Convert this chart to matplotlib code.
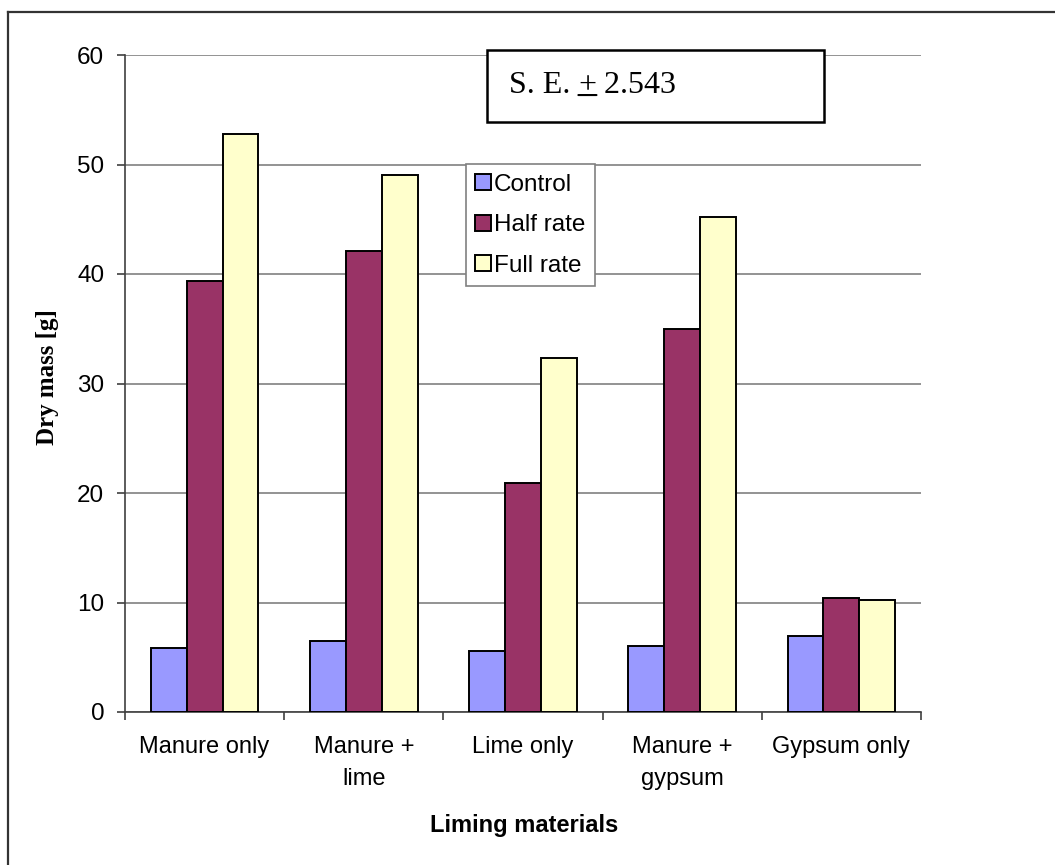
import matplotlib
matplotlib.use("Agg")
import matplotlib.pyplot as plt
import numpy as np
from matplotlib.lines import Line2D
from matplotlib.patches import Rectangle

# Dry mass of plants for each liming material at three application rates
categories = ["Manure only", "Manure +\nlime", "Lime only", "Manure +\ngypsum", "Gypsum only"]
series_names = ["Control", "Half rate", "Full rate"]
control = [5.8, 6.5, 5.6, 6.0, 6.9]
half_rate = [39.4, 42.1, 20.9, 35.0, 10.4]
full_rate = [52.8, 49.0, 32.3, 45.2, 10.2]
series_colors = ["#9999FF", "#993366", "#FFFFCC"]
y_ticks = [0, 10, 20, 30, 40, 50, 60]
se_value = "2.543"

SANS = "Liberation Sans"
SERIF = "Liberation Serif"
AXIS_COLOR = "#404040"
GRID_COLOR = "#808080"

fig = plt.figure(figsize=(10.55, 8.65), dpi=100)
fig.patch.set_facecolor("white")

# Chart-area frame (top and left edges visible)
fig.add_artist(Line2D([8 / 1055, 1.0], [1 - 12 / 865, 1 - 12 / 865],
                      transform=fig.transFigure, color="#333333", lw=1.6))
fig.add_artist(Line2D([8 / 1055, 8 / 1055], [1 - 12 / 865, 0.0],
                      transform=fig.transFigure, color="#333333", lw=1.6))

ax = fig.add_axes([125 / 1055, 1 - 712 / 865, 796 / 1055, 657 / 865])

x = np.arange(len(categories))
width = 0.225
all_series = [control, half_rate, full_rate]
for i, (name, vals, col) in enumerate(zip(series_names, all_series, series_colors)):
    ax.bar(x + (i - 1) * width, vals, width, color=col, edgecolor="black",
           linewidth=1.4, label=name, zorder=3)

ax.set_xlim(-0.5, len(categories) - 0.5)
ax.set_ylim(0, 60)
ax.set_yticks(y_ticks)
ax.set_yticklabels([str(v) for v in y_ticks], fontfamily=SANS, fontsize=17.5)
ax.yaxis.grid(True, color=GRID_COLOR, linewidth=1.2, zorder=0)
ax.set_axisbelow(True)

ax.set_xticks(x)
ax.set_xticklabels(categories, fontfamily=SANS, fontsize=17, linespacing=1.6)
ax.set_xticks(np.arange(len(categories) + 1) - 0.5, minor=True)
ax.tick_params(axis="x", which="major", length=0, pad=17)
ax.tick_params(axis="x", which="minor", length=6, width=1.2, color=AXIS_COLOR, direction="out")
ax.tick_params(axis="y", length=6, width=1.2, color=AXIS_COLOR, direction="out", pad=9)

for side in ["top", "right"]:
    ax.spines[side].set_visible(False)
for side in ["left", "bottom"]:
    ax.spines[side].set_color(AXIS_COLOR)
    ax.spines[side].set_linewidth(1.2)

ax.set_ylabel("Dry mass [g]", fontfamily=SERIF, fontweight="bold", fontsize=18)
ax.yaxis.set_label_coords(-0.097, 0.51)
ax.yaxis.label.set_va("center")
ax.set_xlabel("Liming materials", fontfamily=SANS, fontweight="bold", fontsize=17)
ax.xaxis.set_label_coords(0.502, -0.1735)
ax.xaxis.label.set_va("center")

leg = ax.legend(loc="upper left", bbox_to_anchor=(0.428, 0.834), borderaxespad=0,
                prop={"family": SANS, "size": 17.5}, frameon=True, fancybox=False,
                edgecolor=GRID_COLOR, framealpha=1, handlelength=0.66, handleheight=0.66,
                handletextpad=0.1, labelspacing=0.76, borderpad=0.4)
leg.get_frame().set_linewidth(1.2)
leg.set_zorder(5)

# Standard-error box
ax.add_patch(Rectangle((0.4548, 0.898), 0.4233, 0.1096, transform=ax.transAxes,
                       facecolor="white", edgecolor="black", linewidth=1.8,
                       clip_on=False, zorder=6))
t1 = ax.text(0.4824, 0.9422, "S. E. ", transform=ax.transAxes, fontfamily=SERIF,
             fontsize=23, va="baseline", ha="left", zorder=7)
t_pm = ax.annotate("+", xy=(1, 0), xycoords=t1, va="bottom", ha="left",
                   fontfamily=SERIF, fontsize=23, zorder=7)
ax.annotate(" " + se_value, xy=(1, 0), xycoords=t_pm, va="bottom", ha="left",
            fontfamily=SERIF, fontsize=23, zorder=7)
# underline beneath the plus sign
ax.annotate("", xy=(0.0, 0.17), xycoords=t_pm, xytext=(1.0, 0.17), textcoords=t_pm,
            arrowprops=dict(arrowstyle="-", lw=1.5, color="black",
                            shrinkA=0, shrinkB=0), zorder=7)

fig.savefig("out.png", dpi=100, facecolor="white")
